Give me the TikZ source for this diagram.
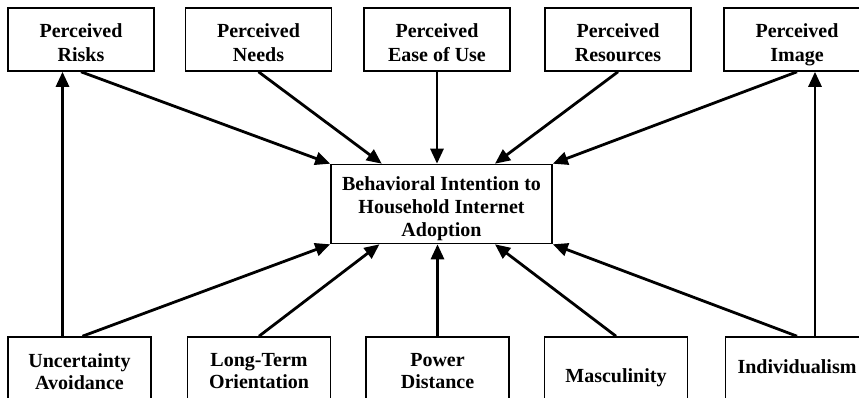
\documentclass[tikz,border=0pt]{standalone}
\usepackage{fontspec}
\setmainfont{Liberation Serif}
\usetikzlibrary{arrows.meta, positioning}

\begin{document}
\begin{tikzpicture}[x=1pt, y=-1pt,
        box/.style={rectangle, draw, line width=1.6pt, align=center, inner sep=2pt},
        factor/.style={box, minimum width=146pt, minimum height=63pt, font=\bfseries\fontsize{20}{24}\selectfont, execute at begin node={\rule{0pt}{49pt}}, execute at end node={\rule[-5pt]{0pt}{5pt}}},
        intent/.style={box, minimum width=221pt, minimum height=78pt, font=\bfseries\fontsize{20}{23}\selectfont, execute at begin node={\rule{0pt}{70pt}}, execute at end node={\rule[-5pt]{0pt}{5pt}}},
        dimension/.style={box, minimum width=143pt, minimum height=74pt, font=\bfseries\fontsize{20}{22}\selectfont, execute at end node={\rule[-5.7pt]{0pt}{5.7pt}}},
        link/.style={-{Triangle[length=15pt,width=13pt]}, line width=2.8pt}]
        \useasboundingbox (0,0) rectangle (859,398);
        \clip (0,0) rectangle (859,398);

        \node (risks) [factor] at (81,39.5) {Perceived\\Risks};
        \node (needs) [factor] at (258.5,39.5) {Perceived\\Needs};
        \node (ease) [factor] at (437,39.5) {Perceived\\Ease of Use};
        \node (resources) [factor] at (618,39.5) {Perceived\\Resources};
        \node (image) [factor] at (797,39.5) {Perceived\\Image};

        \node (intention) [intent] at (441.5,204) {Behavioral Intention to\\Household Internet\\Adoption};

        \node (uncertainty) [dimension] at (79.5,374) {Uncertainty\\Avoidance};
        \node (longterm) [dimension] at (259,374) {Long-Term\\Orientation};
        \node (power) [dimension] at (437.5,374) {Power\\Distance};
        \node (masculinity) [dimension, execute at begin node={\rule{0pt}{21.7pt}}] at (616,374) {Masculinity};
        \node (individualism) [dimension, execute at end node={\rule[-14pt]{0pt}{14pt}}] at (797,374) {Individualism};

        \draw[link] (risks.south) -- (intention.north west);
        \draw[link] (needs.south) -- (intention.146.8);
        \draw[link] (ease.south) -- (ease.south |- intention.north);
        \draw[link] (resources.south) -- (intention.37.7);
        \draw[link] (image.south) -- (intention.north east);

        \draw[link] ([xshift=3pt]uncertainty.north) -- (intention.south west);
        \draw[link] (longterm.north) -- (intention.213.2);
        \draw[link] (power.north) -- (power.north |- intention.south);
        \draw[link] (masculinity.north) -- (intention.-37.7);
        \draw[link] (individualism.north) -- (intention.south east);

        \draw[link] ([xshift=-17pt]uncertainty.north) -- ([xshift=-17pt]uncertainty.north |- risks.south);
        \draw[link] ([xshift=18pt]individualism.north) -- ([xshift=18pt]individualism.north |- image.south);
    \end{tikzpicture}
\end{document}
